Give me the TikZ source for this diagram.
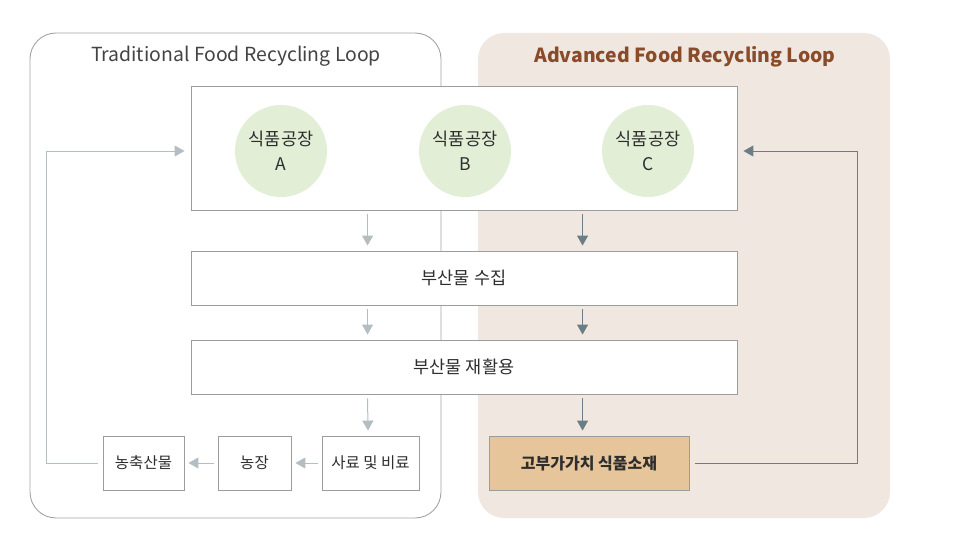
\documentclass[tikz,border=0pt]{standalone}
\usepackage{fontspec}
\setmainfont{Noto Sans CJK KR}
\usetikzlibrary{arrows.meta,calc}
\definecolor{bordergray}{HTML}{A3A3A3}
\definecolor{boxgray}{HTML}{9C9C9C}
\definecolor{lightarr}{HTML}{B4BEC2}
\definecolor{darkarr}{HTML}{6C7D86}
\definecolor{advbg}{HTML}{F0E8E0}
\definecolor{circfill}{HTML}{E2EFD6}
\definecolor{goldfill}{HTML}{E7C59A}
\definecolor{titlebrown}{HTML}{8A4B2A}
\definecolor{txt}{HTML}{2E2E2E}
\tikzset{
  flowbox/.style={draw=boxgray, fill=white, line width=0.9pt, text=txt, font=\fontsize{17.5}{20}\selectfont, inner sep=0pt},
  smallbox/.style={flowbox, font=\fontsize{15.5}{18}\selectfont},
  factory/.style={circle, fill=circfill, minimum size=92pt, inner sep=0pt, align=center, text=txt, font=\fontsize{17.5}{25}\selectfont},
  lightline/.style={draw=lightarr, line width=1pt},
  darkline/.style={draw=darkarr, line width=1pt},
  lighttip/.style={lightline, -{Triangle[width=11pt,length=10pt]}},
  darktip/.style={darkline, -{Triangle[width=11pt,length=10pt]}},
}
\begin{document}
\begin{tikzpicture}[x=1pt,y=-1pt]
\useasboundingbox (0,0) rectangle (970,535);
% loop backgrounds
\fill[advbg, rounded corners=26pt] (478,33) rectangle (890,518);
\draw[bordergray, line width=0.9pt, rounded corners=26pt] (30,33) rectangle (441,518);
\node[text=txt!90, font=\fontsize{19.4}{22}\selectfont] (tradtitle) at (236,56.5) {Traditional Food Recycling Loop};
\node[text=titlebrown, font=\fontsize{19.4}{22}\selectfont\bfseries] (advtitle) at (685,56.5) {Advanced Food Recycling Loop};
% main boxes
\node[flowbox, minimum width=546pt, minimum height=124pt] (fac) at (464,148) {};
\node[factory] (fa) at (281,151) {식품공장\\A};
\node[factory] (fb) at (465,151) {식품공장\\B};
\node[factory] (fc) at (648,151) {식품공장\\C};
\node[flowbox, minimum width=546pt, minimum height=54pt] (coll) at (464,278) {부산물 수집};
\node[flowbox, minimum width=546pt, minimum height=54pt] (recy) at (464,367) {부산물 재활용};
\node[smallbox, minimum width=97pt, minimum height=54pt] (feed) at (370.5,463) {사료 및 비료};
\node[smallbox, minimum width=73pt, minimum height=54pt] (farm) at (254.5,463) {농장};
\node[smallbox, minimum width=81pt, minimum height=54pt] (prod) at (143.5,463) {농축산물};
\node[flowbox, fill=goldfill, minimum width=200pt, minimum height=54pt, font=\fontsize{16}{19}\selectfont\bfseries] (hv) at (589,463) {고부가가치 식품소재};
% vertical arrows (traditional)
\draw[lighttip] ($(fac.south west)+(177,4)$) -- ($(coll.north west)+(177,-5)$);
\draw[lighttip] ($(coll.south west)+(177,4)$) -- ($(recy.north west)+(177,-5)$);
\draw[lighttip] ($(recy.south west)+(177,4)$) -- ($(feed.north)+(-2.5,-5)$);
% vertical arrows (advanced)
\draw[darktip] ($(fac.south west)+(392,4)$) -- ($(coll.north west)+(392,-5)$);
\draw[darktip] ($(coll.south west)+(392,4)$) -- ($(recy.north west)+(392,-5)$);
\draw[darktip] ($(recy.south west)+(392,4)$) -- ($(hv.north west)+(94,-5)$);
% horizontal arrows
\draw[lighttip] ($(feed.west)+(-4,0)$) -- ($(farm.east)+(4,0)$);
\draw[lighttip] ($(farm.west)+(-4,0)$) -- ($(prod.east)+(4,0)$);
% return loops
\coordinate (lbot) at (46,463);
\coordinate (ltop) at (46,151);
\draw[lighttip] ($(prod.west)+(-5,0)$) -- (lbot) -- (ltop) -- ($(fac.west |- ltop)+(-6,0)$);
\coordinate (rbot) at (857,463);
\coordinate (rtop) at (857,151);
\draw[darktip] ($(hv.east)+(6,0)$) -- (rbot) -- (rtop) -- ($(fac.east |- rtop)+(6,0)$);
\end{tikzpicture}
\end{document}
